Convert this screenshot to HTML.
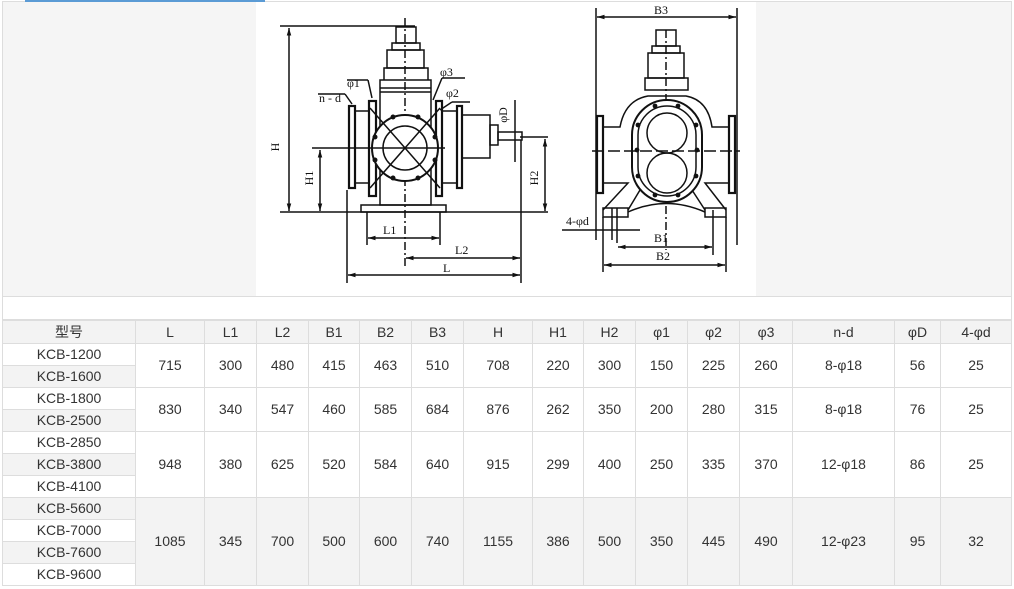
<!DOCTYPE html>
<html><head><meta charset="utf-8">
<style>
*{margin:0;padding:0;box-sizing:border-box}
body{width:1014px;height:589px;background:#fff;position:relative;overflow:hidden;font-family:"Liberation Sans","Noto Sans CJK SC",sans-serif;color:#333}
#blue{position:absolute;left:25px;top:0;width:240px;height:2px;background:#5b9bd5}
#top{position:absolute;left:2px;top:1px;width:1010px;height:296px;background:#f5f5f5;border:1px solid #ddd}
#img{position:absolute;left:256px;top:2px;width:500px;height:294px;background:#fff}
#blank{position:absolute;left:2px;top:297px;width:1010px;height:23px;border:1px solid #ddd;border-top:none;background:#fff}
table{position:absolute;left:2px;top:319px;border-collapse:collapse;table-layout:fixed;width:1009px}
td{border:1px solid #ddd;text-align:center;font-size:14px;height:22px;padding:0;line-height:20px}
tr.h td{background:#f3f3f3;height:23px;border-top:2px solid #ddd}
.g{background:#f3f3f3}
svg{position:absolute;left:0;top:0}
svg text{font-family:"Liberation Serif",serif;font-size:12px;fill:#111}
</style></head><body>
<div id="top"></div><div id="blue"></div>
<div id="img"></div>
<svg width="1014" height="300" viewBox="0 0 1014 300" fill="none" stroke="#111" stroke-width="1.5">
<defs><marker id="a" viewBox="0 0 10 10" refX="10" refY="5" markerWidth="7" markerHeight="5" orient="auto-start-reverse"><path d="M0 2 L10 5 L0 8 Z" fill="#111" stroke="none"/></marker></defs>
<!-- LEFT VIEW -->
<line x1="280" y1="26" x2="415" y2="26"/>
<line x1="289" y1="28" x2="289" y2="211" marker-start="url(#a)" marker-end="url(#a)"/>
<line x1="280" y1="212" x2="548" y2="212"/>
<line x1="405" y1="18" x2="405" y2="268" stroke-dasharray="8 3 2 3"/>
<rect x="396" y="27" width="20" height="16"/>
<rect x="392" y="43" width="28" height="7"/>
<rect x="387" y="50" width="37" height="18"/>
<path d="M384 80 L384 68 L428 68 L428 80"/>
<rect x="380" y="80" width="51" height="125"/>
<line x1="380" y1="88" x2="431" y2="88"/><line x1="380" y1="92" x2="431" y2="92"/>
<rect x="349" y="106" width="6" height="82" stroke-width="2.2"/>
<rect x="355" y="111" width="14" height="72"/>
<rect x="369" y="101" width="7" height="95" stroke-width="2.2"/>
<rect x="436" y="101" width="6" height="95" stroke-width="2.2"/>
<rect x="442" y="111" width="15" height="72"/>
<rect x="457" y="106" width="5" height="82" stroke-width="2.2"/>
<rect x="462" y="115" width="28" height="43"/>
<rect x="490" y="125" width="8" height="20"/>
<rect x="498" y="132" width="24" height="8"/>
<circle cx="405" cy="148" r="33" fill="#fff" stroke-width="2"/>
<circle cx="405" cy="148" r="22"/>
<line x1="370" y1="108" x2="440" y2="188"/><line x1="440" y1="108" x2="370" y2="188"/>
<line x1="312" y1="148" x2="445" y2="148"/>
<g fill="#111" stroke="none"><circle cx="393" cy="117" r="2.5"/><circle cx="418" cy="117" r="2.5"/><circle cx="375" cy="137" r="2.5"/><circle cx="435" cy="137" r="2.5"/><circle cx="375" cy="160" r="2.5"/><circle cx="435" cy="160" r="2.5"/><circle cx="393" cy="178" r="2.5"/><circle cx="418" cy="178" r="2.5"/></g>
<rect x="361" y="205" width="85" height="7"/>
<line x1="320" y1="150" x2="320" y2="211" marker-start="url(#a)" marker-end="url(#a)"/>
<line x1="520" y1="137" x2="548" y2="137"/>
<line x1="545" y1="139" x2="545" y2="211" marker-start="url(#a)" marker-end="url(#a)"/>
<line x1="515" y1="100" x2="515" y2="162"/>
<line x1="367" y1="212" x2="367" y2="245"/><line x1="440" y1="212" x2="440" y2="245"/>
<line x1="368" y1="238" x2="439" y2="238" marker-start="url(#a)" marker-end="url(#a)"/>
<line x1="406" y1="258" x2="520" y2="258" marker-start="url(#a)" marker-end="url(#a)"/>
<line x1="347" y1="190" x2="347" y2="283"/><line x1="521" y1="140" x2="521" y2="283"/>
<line x1="348" y1="275" x2="520" y2="275" marker-start="url(#a)" marker-end="url(#a)"/>
<line x1="318" y1="94" x2="345" y2="94"/><line x1="345" y1="94" x2="352" y2="104"/>
<line x1="347" y1="80" x2="368" y2="80"/><line x1="368" y1="80" x2="372" y2="98"/>
<line x1="442" y1="78" x2="465" y2="78"/><line x1="442" y1="78" x2="433" y2="100"/>
<line x1="452" y1="102" x2="470" y2="102"/><line x1="452" y1="102" x2="440" y2="110"/>
<!-- RIGHT VIEW -->
<line x1="596" y1="8" x2="596" y2="240"/><line x1="737" y1="8" x2="737" y2="245"/>
<line x1="597" y1="17" x2="736" y2="17" marker-start="url(#a)" marker-end="url(#a)"/>
<line x1="666" y1="30" x2="666" y2="250" stroke-dasharray="8 3 2 3"/>
<rect x="656" y="30" width="20" height="16"/>
<rect x="652" y="46" width="28" height="7"/>
<rect x="648" y="53" width="36" height="25"/>
<rect x="645" y="78" width="43" height="12"/>
<path d="M603 127 L620 127 Q625 100 648 96 L686 96 Q708 100 712 127 L729 127"/>
<path d="M603 183 L628 183 L603 210 M729 183 L705 183 L726 210"/>
<rect x="597" y="116" width="6" height="77" stroke-width="2.2"/>
<rect x="729" y="116" width="6" height="77" stroke-width="2.2"/>
<rect x="603" y="208" width="25" height="9"/><rect x="705" y="208" width="21" height="9"/>
<path d="M628 212 Q666 195 705 212"/>
<line x1="640" y1="190" x2="628" y2="210"/><line x1="692" y1="190" x2="705" y2="210"/>
<rect x="632" y="100" width="70" height="102" rx="35" fill="#fff" stroke-width="2"/>
<rect x="638" y="106" width="58" height="90" rx="29"/>
<circle cx="667" cy="133" r="20"/><circle cx="667" cy="173" r="20"/>
<line x1="592" y1="151" x2="740" y2="151" stroke-dasharray="12 4"/>
<g fill="#111" stroke="none"><circle cx="655" cy="106" r="2.4"/><circle cx="678" cy="106" r="2.4"/><circle cx="638" cy="125" r="2.4"/><circle cx="696" cy="125" r="2.4"/><circle cx="637" cy="150" r="2.4"/><circle cx="697" cy="150" r="2.4"/><circle cx="638" cy="176" r="2.4"/><circle cx="696" cy="176" r="2.4"/><circle cx="655" cy="195" r="2.4"/><circle cx="678" cy="195" r="2.4"/></g>
<line x1="562" y1="230" x2="640" y2="230"/>
<line x1="612" y1="208" x2="612" y2="240"/><line x1="617" y1="208" x2="617" y2="243"/>
<line x1="713" y1="210" x2="713" y2="255"/>
<line x1="618" y1="247" x2="712" y2="247" marker-start="url(#a)" marker-end="url(#a)"/>
<line x1="603" y1="217" x2="603" y2="272"/><line x1="726" y1="217" x2="726" y2="272"/>
<line x1="604" y1="265" x2="725" y2="265" marker-start="url(#a)" marker-end="url(#a)"/>
<g stroke="none">
<text x="279" y="147" transform="rotate(-90 279 147)" text-anchor="middle">H</text>
<text x="313" y="178" transform="rotate(-90 313 178)" text-anchor="middle">H1</text>
<text x="538" y="178" transform="rotate(-90 538 178)" text-anchor="middle">H2</text>
<text x="507" y="115" transform="rotate(-90 507 115)" text-anchor="middle">φD</text>
<text x="383" y="234">L1</text>
<text x="455" y="254">L2</text>
<text x="443" y="272">L</text>
<text x="319" y="102">n - d</text>
<text x="347" y="87">φ1</text>
<text x="440" y="76">φ3</text>
<text x="446" y="97">φ2</text>
<text x="654" y="14">B3</text>
<text x="566" y="225">4-φd</text>
<text x="654" y="242">B1</text>
<text x="656" y="260">B2</text>
</g>
</svg>
<div id="blank"></div>
<table>
<colgroup><col style="width:133px"><col style="width:69px"><col style="width:52px"><col style="width:52px"><col style="width:51px"><col style="width:52px"><col style="width:52px"><col style="width:69px"><col style="width:51px"><col style="width:52px"><col style="width:52px"><col style="width:52px"><col style="width:53px"><col style="width:102px"><col style="width:46px"><col style="width:71px"></colgroup>
<tr class="h"><td>型号</td><td>L</td><td>L1</td><td>L2</td><td>B1</td><td>B2</td><td>B3</td><td>H</td><td>H1</td><td>H2</td><td>φ1</td><td>φ2</td><td>φ3</td><td>n-d</td><td>φD</td><td>4-φd</td></tr>
<tr><td>KCB-1200</td><td rowspan="2">715</td><td rowspan="2">300</td><td rowspan="2">480</td><td rowspan="2">415</td><td rowspan="2">463</td><td rowspan="2">510</td><td rowspan="2">708</td><td rowspan="2">220</td><td rowspan="2">300</td><td rowspan="2">150</td><td rowspan="2">225</td><td rowspan="2">260</td><td rowspan="2">8-φ18</td><td rowspan="2">56</td><td rowspan="2">25</td></tr>
<tr><td class="g">KCB-1600</td></tr>
<tr><td>KCB-1800</td><td rowspan="2">830</td><td rowspan="2">340</td><td rowspan="2">547</td><td rowspan="2">460</td><td rowspan="2">585</td><td rowspan="2">684</td><td rowspan="2">876</td><td rowspan="2">262</td><td rowspan="2">350</td><td rowspan="2">200</td><td rowspan="2">280</td><td rowspan="2">315</td><td rowspan="2">8-φ18</td><td rowspan="2">76</td><td rowspan="2">25</td></tr>
<tr><td class="g">KCB-2500</td></tr>
<tr><td>KCB-2850</td><td rowspan="3">948</td><td rowspan="3">380</td><td rowspan="3">625</td><td rowspan="3">520</td><td rowspan="3">584</td><td rowspan="3">640</td><td rowspan="3">915</td><td rowspan="3">299</td><td rowspan="3">400</td><td rowspan="3">250</td><td rowspan="3">335</td><td rowspan="3">370</td><td rowspan="3">12-φ18</td><td rowspan="3">86</td><td rowspan="3">25</td></tr>
<tr><td class="g">KCB-3800</td></tr>
<tr><td>KCB-4100</td></tr>
<tr class="g"><td>KCB-5600</td><td rowspan="4">1085</td><td rowspan="4">345</td><td rowspan="4">700</td><td rowspan="4">500</td><td rowspan="4">600</td><td rowspan="4">740</td><td rowspan="4">1155</td><td rowspan="4">386</td><td rowspan="4">500</td><td rowspan="4">350</td><td rowspan="4">445</td><td rowspan="4">490</td><td rowspan="4">12-φ23</td><td rowspan="4">95</td><td rowspan="4">32</td></tr>
<tr><td style="background:#fff">KCB-7000</td></tr>
<tr><td class="g">KCB-7600</td></tr>
<tr><td style="background:#fff">KCB-9600</td></tr>
</table>
</body></html>
